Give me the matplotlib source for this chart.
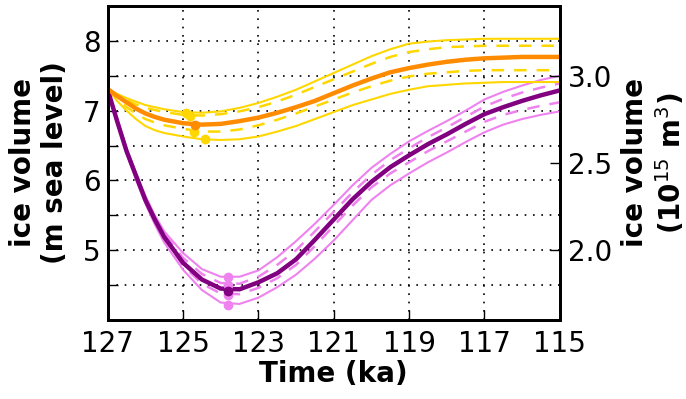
import matplotlib
matplotlib.use("Agg")
import matplotlib.pyplot as plt
import numpy as np

# time axis (ka)
time = [127, 126.75, 126.5, 126.25, 126, 125.75, 125.5, 125, 124.5, 124, 123.5, 123, 122.5,
        122, 121.5, 121, 120.5, 120, 119.5, 119, 118.5, 118, 117.5, 117, 116.5, 116, 115.5, 115]

# purple group (m sea level)
purple_mid = [7.30, 6.85, 6.42, 6.07, 5.72, 5.44, 5.19, 4.82, 4.58, 4.45, 4.44, 4.54, 4.67,
              4.87, 5.15, 5.44, 5.73, 5.98, 6.19, 6.36, 6.52, 6.66, 6.81, 6.95, 7.05, 7.14, 7.22, 7.29]
purple_hi = [7.31, 6.88, 6.46, 6.10, 5.78, 5.50, 5.27, 4.96, 4.73, 4.62, 4.62, 4.71, 4.90,
             5.13, 5.38, 5.65, 5.93, 6.18, 6.38, 6.56, 6.71, 6.85, 7.00, 7.16, 7.27, 7.36, 7.44, 7.50]
purple_lo = [7.31, 6.84, 6.39, 6.01, 5.67, 5.37, 5.11, 4.72, 4.43, 4.25, 4.23, 4.32, 4.47,
             4.65, 4.88, 5.14, 5.43, 5.72, 5.93, 6.10, 6.26, 6.40, 6.55, 6.69, 6.80, 6.88, 6.94, 6.99]
purple_hi_d = [7.31, 6.87, 6.44, 6.09, 5.75, 5.48, 5.24, 4.89, 4.66, 4.53, 4.52, 4.62, 4.79,
               5.00, 5.27, 5.55, 5.83, 6.08, 6.29, 6.46, 6.62, 6.76, 6.91, 7.06, 7.17, 7.26, 7.33, 7.39]
purple_lo_d = [7.31, 6.85, 6.40, 6.03, 5.70, 5.41, 5.16, 4.78, 4.52, 4.38, 4.37, 4.46, 4.60,
               4.79, 5.06, 5.35, 5.64, 5.90, 6.10, 6.26, 6.42, 6.56, 6.70, 6.84, 6.94, 7.01, 7.07, 7.12]

# orange group (m sea level)
orange_mid = [7.31, 7.21, 7.12, 7.03, 6.96, 6.91, 6.87, 6.82, 6.80, 6.81, 6.85, 6.90, 6.97,
              7.05, 7.14, 7.25, 7.36, 7.46, 7.55, 7.61, 7.66, 7.70, 7.73, 7.75, 7.76, 7.77, 7.77, 7.77]
gold_hi = [7.31, 7.24, 7.18, 7.13, 7.08, 7.05, 7.02, 6.98, 6.97, 6.99, 7.04, 7.11, 7.20,
           7.30, 7.42, 7.54, 7.66, 7.78, 7.88, 7.96, 7.99, 8.01, 8.02, 8.03, 8.03, 8.03, 8.03, 8.03]
gold_lo = [7.31, 7.14, 7.00, 6.88, 6.78, 6.72, 6.68, 6.63, 6.59, 6.58, 6.59, 6.63, 6.70,
           6.78, 6.88, 6.98, 7.08, 7.16, 7.24, 7.30, 7.35, 7.37, 7.39, 7.40, 7.41, 7.41, 7.41, 7.41]
gold_hi_d = [7.31, 7.22, 7.15, 7.09, 7.04, 7.01, 6.98, 6.94, 6.93, 6.95, 6.99, 7.05, 7.13,
             7.23, 7.34, 7.45, 7.56, 7.67, 7.77, 7.84, 7.88, 7.91, 7.92, 7.93, 7.93, 7.93, 7.93, 7.93]
gold_lo_d = [7.31, 7.17, 7.05, 6.96, 6.88, 6.83, 6.79, 6.74, 6.70, 6.70, 6.73, 6.79, 6.87,
             6.96, 7.06, 7.16, 7.26, 7.35, 7.43, 7.49, 7.53, 7.55, 7.57, 7.58, 7.58, 7.58, 7.58, 7.58]

# minima markers
purple_min_t = [123.8, 123.8, 123.8, 123.8]
purple_min_v = [4.61, 4.50, 4.36, 4.22]
purple_mid_min_t = [123.8]
purple_mid_min_v = [4.42]
gold_min_t = [124.93, 124.82, 124.72, 124.42]
gold_min_v = [6.97, 6.93, 6.70, 6.59]
orange_min_t = [124.69]
orange_min_v = [6.80]

x_ticks = [127, 125, 123, 121, 119, 117, 115]
y_ticks = [4.5, 5.0, 5.5, 6.0, 6.5, 7.0, 7.5, 8.0]
y_tick_labels = ["", "5", "", "6", "", "7", "", "8"]
y2_ticks = [2.0, 2.5, 3.0]
y2_tick_labels = ["2.0", "2.5", "3.0"]
conv = 0.4  # m sea level -> 10^15 m^3

plt.rcParams['font.family'] = 'DejaVu Sans'
fig = plt.figure(figsize=(6.86, 3.99), dpi=100)
ax = fig.add_axes([0.157, 0.198, 0.659, 0.787])

dash = (0, (5, 4))
for y, ls, lw in [(purple_hi, '-', 1.5), (purple_lo, '-', 1.5),
                  (purple_hi_d, dash, 1.8), (purple_lo_d, dash, 1.8)]:
    ax.plot(time, y, color='violet', linestyle=ls, linewidth=lw, zorder=3)
ax.plot(time, purple_mid, color='purple', linewidth=3.2, zorder=4)
ax.plot(purple_min_t, purple_min_v, 'o', color='violet', markersize=6, zorder=5)
ax.plot(purple_mid_min_t, purple_mid_min_v, 'o', color='purple', markersize=6, zorder=5)

for y, ls, lw in [(gold_hi, '-', 1.5), (gold_lo, '-', 1.5),
                  (gold_hi_d, dash, 1.8), (gold_lo_d, dash, 1.8)]:
    ax.plot(time, y, color='gold', linestyle=ls, linewidth=lw, zorder=3)
ax.plot(time, orange_mid, color='darkorange', linewidth=3.2, zorder=4)
ax.plot(gold_min_t, gold_min_v, 'o', color='gold', markersize=6, zorder=5)
ax.plot(orange_min_t, orange_min_v, 'o', color='darkorange', markersize=6, zorder=5)

ax.set_xlim(127, 115)
ax.set_ylim(4.0, 8.5)
ax.set_xticks(x_ticks)
ax.set_xticklabels([str(t) for t in x_ticks])
ax.set_yticks(y_ticks)
ax.set_yticklabels(y_tick_labels)
ax.grid(True, color='k', linestyle=(0, (1, 4)), linewidth=1.2)
ax.tick_params(direction='in', length=7, width=1, labelsize=20)
ax.tick_params(axis='x', pad=7)
ax.tick_params(axis='y', pad=5)
for s in ax.spines.values():
    s.set_linewidth(2)

ax.set_xlabel("Time (ka)", fontsize=20, fontweight='bold', labelpad=2)
ax.set_ylabel("ice volume\n(m sea level)", fontsize=20, fontweight='bold', labelpad=10)

ax2 = ax.twinx()
ax2.set_ylim(4.0 * conv, 8.5 * conv)
ax2.set_yticks(y2_ticks)
ax2.set_yticklabels(y2_tick_labels)
ax2.tick_params(direction='in', length=7, width=1, labelsize=20, pad=6)
for s in ax2.spines.values():
    s.set_linewidth(2)
ax2.set_ylabel("ice volume\n(10$^{15}$ m$^3$)", fontsize=20, fontweight='bold', labelpad=6)

fig.savefig("out.png", dpi=100)
